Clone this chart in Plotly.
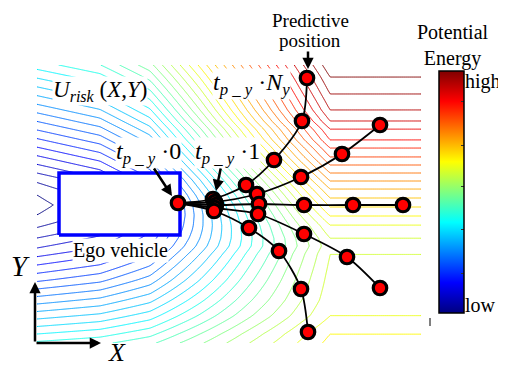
import numpy as np
import plotly.graph_objects as go

# ---------------- data (X longitudinal, Y lateral; 1 unit = 1 m) ----------------
# far-field (right side) potential level vs lateral position
road_Y = [0.0, 0.9, 2.7, 4.3, 6.8, 8.9, 9.7, 10.5, 11.8, 12.7, 13.6, 14.5, 15.4, 16.2,
          17.0, 17.8, 18.6, 19.5, 20.3, 21.4, 22.2, 23.3, 24.9, 26.6, 27.8]
road_U = [25.3, 25.0, 24.0, 23.6, 23.3, 23.0, 22.7, 23.0, 24.0, 25.0, 26.0, 27.0, 28.0, 29.0,
          30.0, 31.0, 32.0, 33.0, 34.0, 35.0, 36.0, 37.0, 38.0, 39.0, 39.8]
# near-field (left edge, behind ego vehicle) potential level vs lateral position
left_Y = [0.0, 3.3, 6.3, 9.3, 11.3, 12.8, 13.8, 14.8, 16.3, 18.3, 21.3, 24.3, 27.8]
left_U = [16.2, 11.8, 7.8, 4.2, 2.2, 1.0, 0.6, 1.0, 2.2, 4.5, 8.0, 11.5, 15.5]
# share of far-field potential along X
blend_X = [0.2, 6.5, 11.5, 16.5, 21.5, 26.5, 29.5, 38.6]
blend_W = [0.0, 0.06, 0.17, 0.40, 0.64, 0.87, 1.0, 1.0]

field_X = [0.2, 38.6]
field_Y = [0.0, 27.8]

ego_X = [2.4, 14.5]
ego_Y = [10.8, 17.0]

t0_X, t0_Y = 14.3, 14.0
traj_X = [
    [17.8, 21.1, 23.9, 26.7, 27.2],
    [18.0, 22.2, 26.6, 30.7, 34.5],
    [18.1, 22.4, 26.9, 31.8, 36.8],
    [18.0, 22.3, 26.9, 31.2, 34.5],
    [17.9, 21.4, 24.4, 26.6, 27.3],
]
traj_Y = [
    [14.4, 15.8, 18.3, 22.2, 26.5],
    [14.1, 14.9, 16.6, 18.9, 21.8],
    [13.8, 13.9, 13.8, 13.8, 13.8],
    [13.5, 12.9, 10.9, 8.6, 5.5],
    [13.2, 11.5, 9.2, 5.4, 1.1],
]

cbar_labels = ["low", "high"]

# ---------------- figure ----------------
WIN_W, WIN_H = 506, 367
OFF = 8                      # page body margin
W, H = WIN_W - OFF, WIN_H - OFF
X0, Y0, S = 35, 343, 10.0    # axis origin in window px, px per metre


def P(px, py):
    """window pixel -> data coordinates"""
    return ((px - X0) / S, (Y0 - py) / S)


JET = [[0, "#000080"], [0.125, "#0000ff"], [0.375, "#00ffff"],
       [0.625, "#ffff00"], [0.875, "#ff0000"], [1, "#800000"]]

gx = np.linspace(field_X[0], field_X[1], 200)
gy = np.linspace(field_Y[0], field_Y[1], 150)
w = np.interp(gx, blend_X, blend_W)
r = np.interp(gy, road_Y, road_U)
l = np.interp(gy, left_Y, left_U)
Z = (1 - w)[None, :] * l[:, None] + w[None, :] * r[:, None]

fig = go.Figure()
fig.add_trace(go.Contour(
    x=gx, y=gy, z=Z, colorscale=JET, zmin=0, zmax=40, zauto=False,
    contours=dict(coloring="lines", start=1, end=39, size=1),
    line=dict(width=1, smoothing=0), showscale=False, hoverinfo="skip"))

# ego vehicle
fig.add_trace(go.Scatter(
    x=[ego_X[0], ego_X[1], ego_X[1], ego_X[0], ego_X[0]],
    y=[ego_Y[0], ego_Y[0], ego_Y[1], ego_Y[1], ego_Y[0]],
    mode="lines", fill="toself", fillcolor="white",
    line=dict(color="#0000ff", width=3.5), hoverinfo="skip"))

# trajectories
for tx, ty in zip(traj_X, traj_Y):
    fig.add_trace(go.Scatter(
        x=[t0_X] + tx, y=[t0_Y] + ty, mode="lines",
        line=dict(color="black", width=1.8, shape="spline", smoothing=0.8),
        hoverinfo="skip"))

all_x = [t0_X] + [v for tx in traj_X for v in tx]
all_y = [t0_Y] + [v for ty in traj_Y for v in ty]
fig.add_trace(go.Scatter(
    x=all_x, y=all_y, mode="markers",
    marker=dict(size=13.5, color="#ff0000", line=dict(color="black", width=3.2)),
    hoverinfo="skip"))

# colorbar
fig.add_trace(go.Scatter(
    x=[-100], y=[-100], mode="markers",
    marker=dict(size=1, color=[0.5], colorscale=JET, cmin=0, cmax=1, showscale=True,
                colorbar=dict(x=(439 - OFF) / W, xanchor="left", xpad=0,
                              y=1 - (71 - OFF) / H, yanchor="top", ypad=0,
                              len=242, lenmode="pixels", thickness=25,
                              outlinewidth=1.5, outlinecolor="black",
                              ticks="inside", ticklen=3, tickcolor="#333",
                              tickvals=[0.165, 0.343, 0.521, 0.694, 0.872],
                              showticklabels=False)),
    hoverinfo="skip", showlegend=False))

FONT = "Liberation Serif"
ann = []


def text(px, py, t, size=20, xanchor="center", bg=None):
    x, y = P(px, py)
    d = dict(x=x, y=y, xref="x", yref="y", text=t, showarrow=False,
             xanchor=xanchor, yanchor="middle",
             font=dict(family=FONT, size=size, color="black"))
    if bg:
        d.update(bgcolor=bg, borderpad=0)
    ann.append(d)


def arrow(px0, py0, px1, py1, width=2.5, size=0.9):
    x0, y0 = P(px0, py0)
    x1, y1 = P(px1, py1)
    ann.append(dict(x=x1, y=y1, ax=x0, ay=y0, xref="x", yref="y", axref="x", ayref="y",
                    text="", showarrow=True, arrowhead=2, arrowsize=size,
                    arrowwidth=width, arrowcolor="black"))


text(310, 20, "Predictive", size=19)
text(310, 40, "position", size=19)
arrow(308, 50, 308, 69)
text(453, 45, "Potential<br>Energy")
text(463, 81, cbar_labels[1], xanchor="left")
text(463, 305, cbar_labels[0], xanchor="left")
text(100, 91, "<i>U</i><sub><i>risk</i></sub> (<i>X</i>,<i>Y</i>)", size=23, bg="white")
text(251, 84, "<i>t</i><sub><i>p _ y</i></sub> ·<i>N</i><sub><i>y</i></sub>", size=24, bg="white")
text(148, 153, "<i>t</i><sub><i>p _ y</i></sub> ·0", size=24, bg="white")
text(227, 153, "<i>t</i><sub><i>p _ y</i></sub> ·1", size=24, bg="white")
arrow(153, 167, 172, 196)
arrow(221, 167, 216, 191)
text(120, 250, "Ego vehicle", bg="white")
text(20, 266, "<i>Y</i>", size=29)
text(117, 352, "<i>X</i>", size=26)
arrow(35, 343, 35, 282)
arrow(35, 343, 101, 343)

xa, ya = P(430, 318)
xb, yb = P(430, 326)
fig.add_shape(type="line", x0=xa, y0=ya, x1=xb, y1=yb, xref="x", yref="y",
              line=dict(color="black", width=1))

x_lo, y_hi = P(OFF, OFF)
x_hi, y_lo = P(WIN_W, WIN_H)
fig.update_layout(
    width=W, height=H, margin=dict(l=0, r=0, t=0, b=0),
    paper_bgcolor="white", plot_bgcolor="white", showlegend=False,
    font=dict(family=FONT),
    xaxis=dict(range=[x_lo, x_hi], visible=False, fixedrange=True),
    yaxis=dict(range=[y_lo, y_hi], visible=False, fixedrange=True),
    annotations=ann,
)

fig.write_html("out.html")
